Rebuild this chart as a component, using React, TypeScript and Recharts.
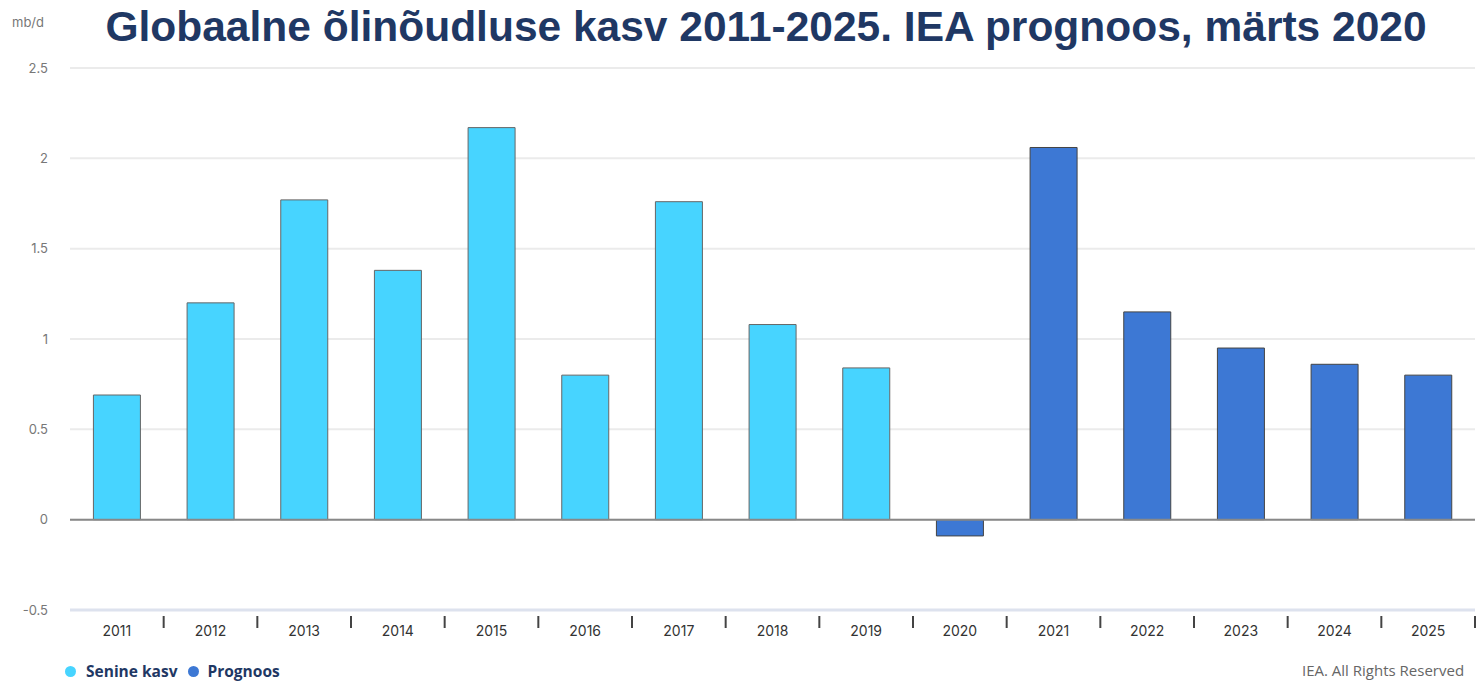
import React from "react";
import {
  BarChart,
  Bar,
  XAxis,
  YAxis,
  CartesianGrid,
  ReferenceLine,
} from "recharts";

const years = [
  "2011", "2012", "2013", "2014", "2015", "2016", "2017", "2018",
  "2019", "2020", "2021", "2022", "2023", "2024", "2025",
];
// actual growth (mb/d), forecast years left empty
const seninekasv = [0.69, 1.2, 1.77, 1.38, 2.17, 0.8, 1.76, 1.08, 0.84, null, null, null, null, null, null];
// IEA forecast, March 2020
const prognoos = [null, null, null, null, null, null, null, null, null, -0.09, 2.06, 1.15, 0.95, 0.86, 0.8];
const yTicks = [-0.5, 0, 0.5, 1, 1.5, 2, 2.5];

const CYAN = "#47d4ff";
const BLUE = "#3d78d4";
const NAVY = "#1f3864";

const data = years.map((y, i) => ({
  year: y,
  senine: seninekasv[i],
  prognoos: prognoos[i],
}));

const STEP = 1405 / years.length;

const YearTick = (props: any) => {
  const { x, y, payload } = props;
  return (
    <g>
      <text x={x} y={y + 18} textAnchor="middle" fill="#333" fontSize={14} fontFamily="Inter, sans-serif">
        {payload.value}
      </text>
      <line x1={x + STEP / 2} x2={x + STEP / 2} y1={y - 2} y2={y + 10} stroke="#444" strokeWidth={2} />
    </g>
  );
};

const App: React.FC = () => {
  return (
    <div style={{ position: "absolute", left: 0, top: 0, width: 1482, height: 681, background: "#fff", overflow: "hidden" }}>
      <div
        style={{
          position: "absolute",
          left: 0,
          top: 3,
          width: 1532,
          textAlign: "center",
          fontFamily: "Liberation Sans, Arial, sans-serif",
          fontWeight: "bold",
          fontSize: 42.5,
          lineHeight: "48px",
          color: NAVY,
          whiteSpace: "nowrap",
        }}
      >
        Globaalne õlinõudluse kasv 2011-2025. IEA prognoos, märts 2020
      </div>
      <div style={{ position: "absolute", left: 12, top: 14, fontFamily: "Inter, sans-serif", fontSize: 13, color: "#777" }}>
        mb/d
      </div>
      <BarChart
        width={1482}
        height={681}
        data={data}
        margin={{ top: 68, right: 7, left: 10, bottom: 41 }}
        barCategoryGap="25%"
      >
        <CartesianGrid vertical={false} stroke="#ebebeb" strokeWidth={2} />
        <XAxis
          dataKey="year"
          height={30}
          axisLine={{ stroke: "#dde2ee", strokeWidth: 3 }}
          tickLine={false}
          tick={<YearTick />}
          interval={0}
        />
        <YAxis
          width={60}
          domain={[-0.5, 2.5]}
          ticks={yTicks}
          axisLine={false}
          tickLine={false}
          tickMargin={16}
          tick={{ fill: "#777", fontSize: 13, fontFamily: "Inter, sans-serif" }}
        />
        <ReferenceLine y={0} stroke="#888" strokeWidth={2} />
        <Bar dataKey="senine" stackId="a" fill={CYAN} stroke="#666" strokeWidth={1} isAnimationActive={false} />
        <Bar dataKey="prognoos" stackId="a" fill={BLUE} stroke="#444" strokeWidth={1} isAnimationActive={false} />
      </BarChart>
      <div
        style={{
          position: "absolute",
          left: 65,
          top: 660,
          display: "flex",
          alignItems: "center",
          fontFamily: "Open Sans, sans-serif",
          fontWeight: "bold",
          fontSize: 15.5,
          color: NAVY,
        }}
      >
        <span style={{ width: 11, height: 11, borderRadius: "50%", background: CYAN, marginRight: 10 }} />
        <span style={{ marginRight: 11 }}>Senine kasv</span>
        <span style={{ width: 11, height: 11, borderRadius: "50%", background: BLUE, marginRight: 8 }} />
        <span>Prognoos</span>
      </div>
      <div
        style={{
          position: "absolute",
          left: 1302,
          top: 660,
          fontFamily: "Open Sans, sans-serif",
          fontSize: 15,
          color: "#666",
          whiteSpace: "nowrap",
        }}
      >
        IEA. All Rights Reserved
      </div>
    </div>
  );
};

export default App;
